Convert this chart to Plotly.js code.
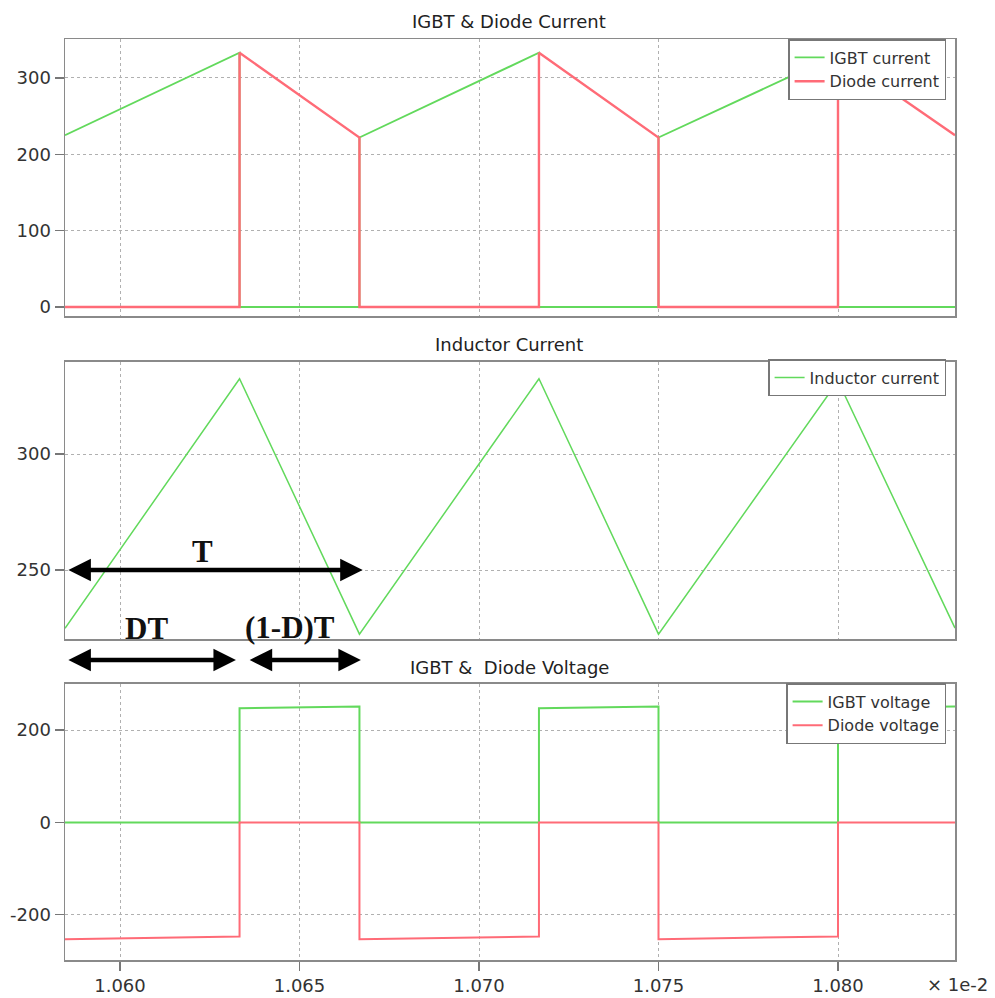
<!DOCTYPE html>
<html>
<head>
<meta charset="utf-8">
<script src="https://cdn.plot.ly/plotly-3.0.1.min.js"></script>
<style>body{margin:0;padding:0;background:#fff}#chart{width:995px;height:998px}</style>
</head>
<body>
<div id="chart"></div>
<script>
// time axis values (× 1e-2 s)
const tSwitch = [1.058468, 1.06333, 1.06333, 1.06667, 1.06667, 1.07167, 1.07167, 1.075, 1.075, 1.08, 1.08, 1.083259];
const igbtCurrent  = [225, 333, 0, 0, 222, 333, 0, 0, 222, 331, 0, 0];
const diodeCurrent = [0, 0, 333, 222, 0, 0, 333, 222, 0, 0, 331, 225];
const tInductor = [1.058468, 1.06333, 1.06667, 1.07167, 1.075, 1.08, 1.083259];
const inductorCurrent = [224.9, 332.5, 222.4, 332.5, 222.4, 331.5, 225];
const igbtVoltage  = [0, 0, 247, 251, 0, 0, 247, 251, 0, 0, 248, 251];
const diodeVoltage = [-253, -247, 0, 0, -253, -247, 0, 0, -253, -247, 0, 0];
const xTicks = [1.060, 1.065, 1.070, 1.075, 1.080];
const yTicksTop = [0, 100, 200, 300];
const yTicksMid = [250, 300];
const yTicksBot = [-200, 0, 200];
const yTickTextBot = ['-200', '0', '200'];
const xRange = [1.058468, 1.083259];

const GREEN = '#62d95c';
const RED = '#ff6b77';
const FONT = 'DejaVu Sans, sans-serif';

const traces = [
  {x: tSwitch, y: igbtCurrent, name: 'IGBT current', type: 'scatter', mode: 'lines', line: {color: GREEN, width: 1.9}, xaxis: 'x', yaxis: 'y', legend: 'legend'},
  {x: tSwitch, y: diodeCurrent, name: 'Diode current', type: 'scatter', mode: 'lines', line: {color: RED, width: 2.4}, xaxis: 'x', yaxis: 'y', legend: 'legend'},
  {x: tInductor, y: inductorCurrent, name: 'Inductor current', type: 'scatter', mode: 'lines', line: {color: GREEN, width: 1.5}, xaxis: 'x2', yaxis: 'y2', legend: 'legend2'},
  {x: tSwitch, y: igbtVoltage, name: 'IGBT voltage', type: 'scatter', mode: 'lines', line: {color: GREEN, width: 2}, xaxis: 'x3', yaxis: 'y3', legend: 'legend3'},
  {x: tSwitch, y: diodeVoltage, name: 'Diode voltage', type: 'scatter', mode: 'lines', line: {color: RED, width: 2}, xaxis: 'x3', yaxis: 'y3', legend: 'legend3'}
];

const axBase = {
  showline: true, mirror: true, linecolor: '#8a8a8a', linewidth: 1.5,
  showgrid: true, gridcolor: '#b0b0b0', griddash: 'dot', gridwidth: 1,
  zeroline: false, tickfont: {family: FONT, size: 18, color: '#333'},
  ticklen: 9, tickcolor: '#777', tickwidth: 1.5
};
function xa(anchor, labels) {
  return Object.assign({}, axBase, {
    anchor: anchor, domain: [0, 1], range: xRange, tickvals: xTicks,
    tickformat: '.3f', ticks: labels ? 'outside' : '', showticklabels: labels
  });
}
function ya(anchor, dom, rng, tv, tt) {
  const o = Object.assign({}, axBase, {
    anchor: anchor, domain: dom, range: rng, tickvals: tv, ticks: 'outside'
  });
  if (tt) o.ticktext = tt;
  return o;
}

const legBase = {
  xanchor: 'right', yanchor: 'top', x: 0.99, bgcolor: '#fff',
  bordercolor: '#777', borderwidth: 1.5, font: {family: FONT, size: 16, color: '#333'},
  tracegroupgap: 0
};

const titleFont = {family: FONT, size: 18, color: '#222'};
const arrowTextFont = {family: 'Liberation Serif, serif', size: 31, color: '#111', weight: 'bold'};
const arrowBase = {showarrow: true, arrowside: 'end+start', arrowhead: 2, arrowsize: 1.0, arrowwidth: 4.5, arrowcolor: '#000', standoff: 0, startstandoff: 0, text: ''};

const layout = {
  width: 995, height: 998,
  margin: {l: 65, r: 40, t: 39, b: 38},
  paper_bgcolor: '#fff', plot_bgcolor: '#fff',
  showlegend: true,
  xaxis: xa('y', false),
  xaxis2: Object.assign(xa('y2', false), {matches: 'x'}),
  xaxis3: Object.assign(xa('y3', true), {matches: 'x'}),
  yaxis: ya('x', [0.6992, 1.0], [-11.8, 351], yTicksTop),
  yaxis2: ya('x2', [0.3485, 0.6493], [220.3, 339.7], yTicksMid),
  yaxis3: ya('x3', [0, 0.2997], [-298, 299.7], yTicksBot, yTickTextBot),
  legend: Object.assign({}, legBase, {y: (960 - 39) / 921}),
  legend2: Object.assign({}, legBase, {y: (960 - 359) / 921}),
  legend3: Object.assign({}, legBase, {y: (960 - 683) / 921}),
  annotations: [
    {text: 'IGBT &amp; Diode Current', xref: 'paper', yref: 'paper', x: 0.4994, y: (960 - 22) / 921, showarrow: false, font: titleFont, xanchor: 'center', yanchor: 'middle'},
    {text: 'Inductor Current', xref: 'paper', yref: 'paper', x: 0.4994, y: (960 - 344) / 921, showarrow: false, font: titleFont, xanchor: 'center', yanchor: 'middle'},
    {text: 'IGBT &amp;  Diode Voltage', xref: 'paper', yref: 'paper', x: 0.4994, y: (960 - 667) / 921, showarrow: false, font: titleFont, xanchor: 'center', yanchor: 'middle'},
    {text: '× 1e-2', xref: 'paper', yref: 'paper', x: 1.039, y: -0.0265, showarrow: false, font: {family: FONT, size: 18, color: '#333'}, xanchor: 'right', yanchor: 'middle'},
    // T arrow
    Object.assign({}, arrowBase, {xref: 'x2', yref: 'y2', x: 1.06676, y: 250, axref: 'x2', ayref: 'y2', ax: 1.05852, ay: 250}),
    {text: 'T', xref: 'x2', yref: 'paper', x: 1.06231, y: (960 - 551) / 921, showarrow: false, font: arrowTextFont, xanchor: 'center', yanchor: 'middle'},
    // DT arrow
    Object.assign({}, arrowBase, {xref: 'x3', yref: 'paper', x: 1.06323, y: (960 - 660) / 921, axref: 'x3', ayref: 'pixel', ax: 1.05852, ay: 0}),
    {text: 'DT', xref: 'x3', yref: 'paper', x: 1.06075, y: (960 - 628) / 921, showarrow: false, font: arrowTextFont, xanchor: 'center', yanchor: 'middle'},
    // (1-D)T arrow
    Object.assign({}, arrowBase, {xref: 'x3', yref: 'paper', x: 1.06671, y: (960 - 660) / 921, axref: 'x3', ayref: 'pixel', ax: 1.06357, ay: 0}),
    {text: '(1-D)T', xref: 'x3', yref: 'paper', x: 1.06474, y: (960 - 627) / 921, showarrow: false, font: arrowTextFont, xanchor: 'center', yanchor: 'middle'}
  ]
};

Plotly.newPlot('chart', traces, layout, {displayModeBar: false, staticPlot: true});
</script>
</body>
</html>
